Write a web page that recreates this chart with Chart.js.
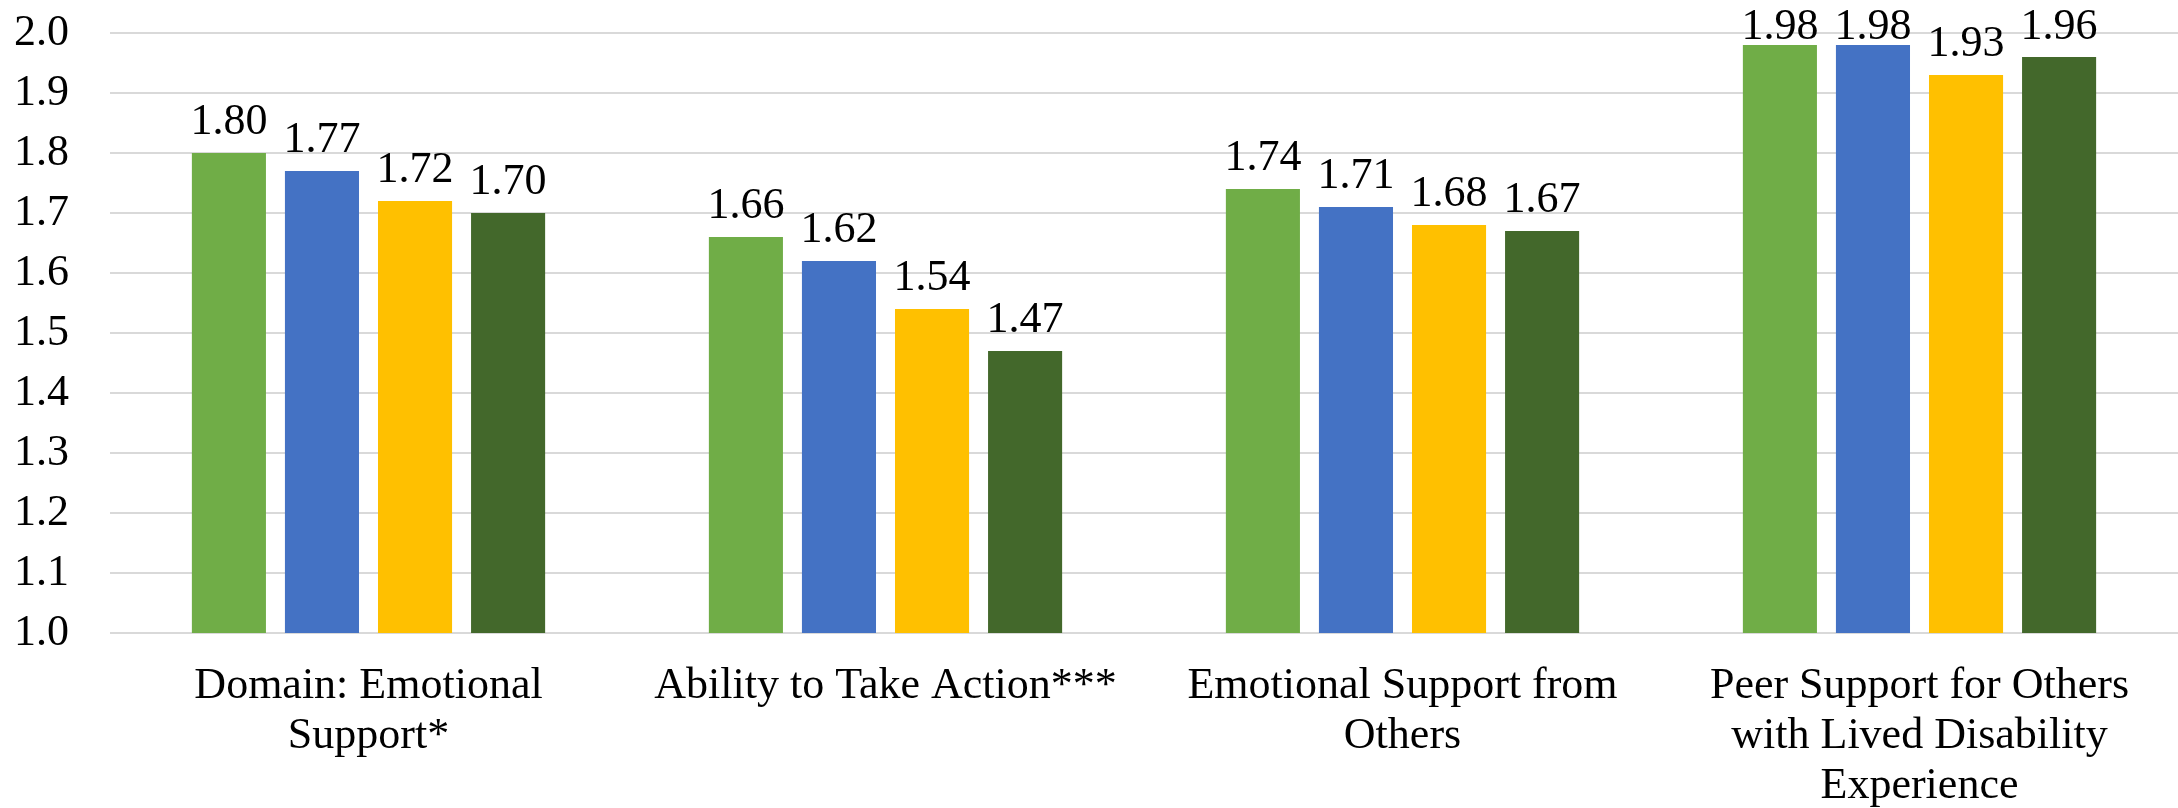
<!DOCTYPE html>
<html lang="en">
<head>
  <meta charset="UTF-8" />
  <title>Mean scores by domain</title>
  <script src="https://cdn.jsdelivr.net/npm/chart.js"></script>
  <style>
    html, body { margin: 0; padding: 0; background: #fff; }
    #chart { display: block; }
  </style>
</head>
<body>
  <canvas id="chart" width="2178" height="808"></canvas>

  <script>
    // categories (wrapped into lines the way they are printed under the axis)
    const categories = [
      ["Domain: Emotional", "Support*"],
      ["Ability to Take Action***"],
      ["Emotional Support from", "Others"],
      ["Peer Support for Others", "with Lived Disability", "Experience"]
    ];

    // one array per group, in bar order left to right
    const group1 = [1.80, 1.66, 1.74, 1.98];
    const group2 = [1.77, 1.62, 1.71, 1.98];
    const group3 = [1.72, 1.54, 1.68, 1.93];
    const group4 = [1.70, 1.47, 1.67, 1.96];

    const yMin = 1.0;
    const yMax = 2.0;
    const yStep = 0.1;

    const FONT = '"Liberation Serif", "Times New Roman", serif';
    const FONT_SIZE = 44;

    // numbers printed above each bar, kept inside the canvas near the top
    const valueLabels = {
      id: 'valueLabels',
      afterDatasetsDraw(chart) {
        const ctx = chart.ctx;
        ctx.save();
        ctx.font = FONT_SIZE + 'px ' + FONT;
        ctx.fillStyle = '#000';
        ctx.textAlign = 'center';
        ctx.textBaseline = 'alphabetic';
        chart.data.datasets.forEach((ds, i) => {
          chart.getDatasetMeta(i).data.forEach((bar, j) => {
            const y = Math.max(bar.y - 19, 39);
            ctx.fillText(ds.data[j].toFixed(2), bar.x, y);
          });
        });
        ctx.restore();
      }
    };

    new Chart(document.getElementById('chart'), {
      type: 'bar',
      data: {
        labels: categories,
        datasets: [
          { label: 'Group 1', data: group1, backgroundColor: '#70AD47' },
          { label: 'Group 2', data: group2, backgroundColor: '#4472C4' },
          { label: 'Group 3', data: group3, backgroundColor: '#FFC000' },
          { label: 'Group 4', data: group4, backgroundColor: '#43682B' }
        ]
      },
      options: {
        responsive: false,
        animation: false,
        categoryPercentage: 0.72,
        barPercentage: 0.796,
        layout: { padding: { top: 33, right: 0, left: 0, bottom: 0 } },
        plugins: {
          legend: { display: false },
          tooltip: { enabled: false }
        },
        scales: {
          x: {
            grid: { display: false, drawTicks: false },
            border: { display: false },
            ticks: {
              color: '#000',
              padding: 28,
              maxRotation: 0,
              autoSkip: false,
              font: { family: FONT, size: FONT_SIZE, lineHeight: 1.14 }
            },
            afterFit(scale) { scale.height = 175; }
          },
          y: {
            min: yMin,
            max: yMax,
            grid: { color: '#d9d9d9', lineWidth: 2, drawTicks: false },
            border: { display: false },
            ticks: {
              stepSize: yStep,
              color: '#000',
              padding: 41,
              font: { family: FONT, size: FONT_SIZE },
              callback: v => v.toFixed(1)
            },
            afterFit(scale) {
              scale.width = 110;
              scale.paddingTop = 0;
              scale.paddingBottom = 0;
            }
          }
        }
      },
      plugins: [valueLabels]
    });
  </script>
</body>
</html>
